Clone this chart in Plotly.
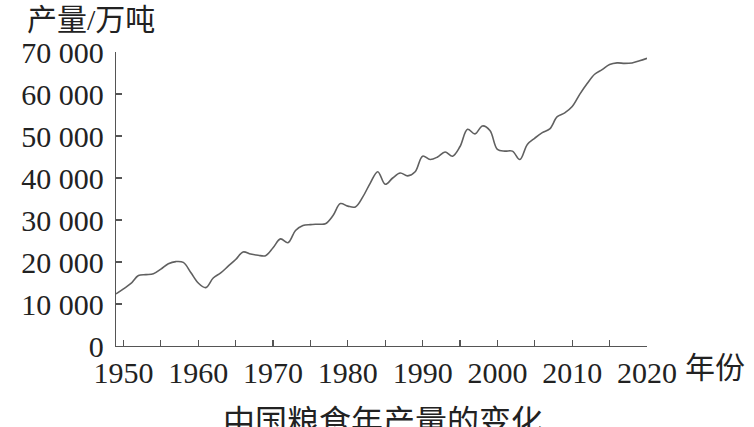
import plotly.graph_objects as go

years = list(range(1949, 2021))
output = [
    12400, 13600, 14900, 16800, 17000, 17200, 18300, 19600, 20100, 19900,
    17500, 15000, 13900, 16200, 17400, 19000, 20600, 22400, 21900, 21600,
    21500, 23400, 25500, 24600, 27500, 28700, 28900, 29000, 29100, 31000,
    33900, 33300, 33100, 35500, 38800, 41500, 38500, 40000, 41200, 40500,
    41500, 45200, 44400, 45000, 46200, 45200, 47500, 51600, 50500, 52400,
    51300, 46800, 46400, 46400, 44400, 48000, 49500, 50800, 51700, 54600,
    55500, 57000, 59900, 62500, 64700, 65800, 67000, 67400, 67300, 67400,
    67900, 68500,
]
y_tickvals = [0, 10000, 20000, 30000, 40000, 50000, 60000, 70000]
y_ticktext = ["0", "10 000", "20 000", "30 000", "40 000", "50 000", "60 000", "70 000"]
x_tickvals = [1950, 1960, 1970, 1980, 1990, 2000, 2010, 2020]
x_ticktext = ["1950", "1960", "1970", "1980", "1990", "2000", "2010", "2020"]

FONT = "Liberation Serif, Noto Sans CJK SC, serif"
TXT = "#222222"
AX = "#555555"

fig = go.Figure()
fig.add_trace(go.Scatter(
    x=years, y=output, mode="lines",
    line=dict(color="#606060", width=1.6, shape="spline", smoothing=1.0),
    hoverinfo="skip", showlegend=False,
))

fig.update_layout(
    width=754, height=427,
    margin=dict(l=116, r=107, t=52, b=81, autoexpand=False),
    paper_bgcolor="white", plot_bgcolor="white",
    font=dict(family=FONT, size=30, color=TXT),
    showlegend=False,
)
fig.update_xaxes(
    range=[1949, 2020], showgrid=False, zeroline=False, automargin=False,
    showline=True, linecolor=AX, linewidth=1.2,
    ticks="inside", ticklen=6, tickcolor=AX, tickwidth=1.2,
    tickmode="array", tickvals=x_tickvals, ticktext=x_ticktext,
    tickfont=dict(family=FONT, size=30, color=TXT),
    minor=dict(ticks="inside", ticklen=6, tickcolor=AX, tickwidth=1.2,
               tick0=1955, dtick=10, showgrid=False),
)
fig.update_yaxes(
    range=[0, 70000], showgrid=False, zeroline=False, automargin=False,
    showline=True, linecolor=AX, linewidth=1.2,
    ticks="inside", ticklen=6, tickcolor=AX, tickwidth=1.2,
    tickmode="array", tickvals=y_tickvals, ticktext=y_ticktext,
    tickfont=dict(family=FONT, size=30, color=TXT),
    ticklabelstandoff=5,
)

fig.add_annotation(text="产量/万吨", xref="paper", yref="paper",
                   x=(25 - 116) / 531, y=(346.5 - 20) / 294,
                   xanchor="left", yanchor="middle", showarrow=False,
                   font=dict(family=FONT, size=30, color=TXT))
fig.add_annotation(text="年份", xref="paper", yref="paper",
                   x=(683 - 116) / 531, y=(346.5 - 368) / 294,
                   xanchor="left", yanchor="middle", showarrow=False,
                   font=dict(family=FONT, size=30, color=TXT))
fig.add_annotation(text="中国粮食年产量的变化", xref="paper", yref="paper",
                   x=(383 - 116) / 531, y=(346.5 - 423) / 294,
                   xanchor="center", yanchor="middle", showarrow=False,
                   font=dict(family=FONT, size=32, color=TXT))

fig.write_html(
    "out.html",
    config={"displayModeBar": False, "staticPlot": True},
    post_script="document.body.style.margin='0';document.body.style.overflow='hidden';",
)
